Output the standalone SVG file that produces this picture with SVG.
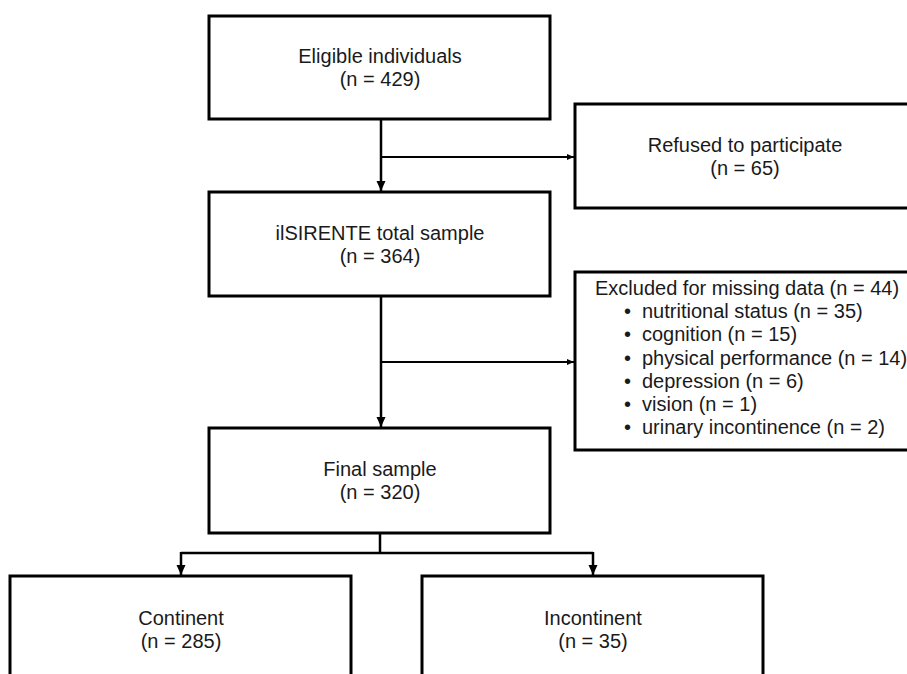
<svg xmlns="http://www.w3.org/2000/svg" width="907" height="674" viewBox="0 0 907 674">
<style>
.box{fill:#fff;stroke:#000;stroke-width:3}
.t{font-family:"Liberation Sans",Arial,sans-serif;font-size:20px;fill:#1a1a1a}
.c{text-anchor:middle}
.ln{fill:none;stroke:#000;stroke-width:2.5}
.lt{fill:none;stroke:#000;stroke-width:2}
</style>
<defs>
<marker id="ad" markerUnits="userSpaceOnUse" markerWidth="10" markerHeight="10" viewBox="0 0 10 10" refX="10" refY="5" orient="auto">
<path d="M0,0.5 L10,5 L0,9.5 Z" fill="#000"/>
</marker>
<marker id="ar" markerUnits="userSpaceOnUse" markerWidth="7" markerHeight="6" viewBox="0 0 7 6" refX="7" refY="3" orient="auto">
<path d="M0,0 L7,3 L0,6 Z" fill="#000"/>
</marker>
</defs>
<rect width="907" height="674" fill="#fff"/>
<g id="connectors">
<line class="ln" x1="381" y1="120" x2="381" y2="191" marker-end="url(#ad)"/>
<line class="lt" x1="381" y1="157" x2="574" y2="157" marker-end="url(#ar)"/>
<line class="ln" x1="381" y1="297" x2="381" y2="427" marker-end="url(#ad)"/>
<line class="lt" x1="381" y1="362" x2="574" y2="362" marker-end="url(#ar)"/>
<path class="ln" d="M380,534 V553 M181,553 H593"/>
<line class="ln" x1="181" y1="552" x2="181" y2="575" marker-end="url(#ad)"/>
<line class="ln" x1="593" y1="552" x2="593" y2="575" marker-end="url(#ad)"/>
</g>
<g id="eligible">
<rect class="box" x="209" y="16" width="341" height="103"/>
<text class="t c" x="380" y="63">Eligible individuals</text>
<text class="t c" x="380" y="86">(n = 429)</text>
</g>
<g id="refused">
<rect class="box" x="575" y="104" width="345" height="104"/>
<text class="t c" x="745" y="152">Refused to participate</text>
<text class="t c" x="745" y="175">(n = 65)</text>
</g>
<g id="total">
<rect class="box" x="209" y="192" width="341" height="104"/>
<text class="t c" x="380" y="240">ilSIRENTE total sample</text>
<text class="t c" x="380" y="263">(n = 364)</text>
</g>
<g id="excluded">
<rect class="box" x="575" y="272" width="345" height="178"/>
<text class="t" x="595" y="295">Excluded for missing data (n = 44)</text>
<g class="t">
<text x="624" y="318.2">•</text><text x="642" y="318.2">nutritional status (n = 35)</text>
<text x="624" y="341.4">•</text><text x="642" y="341.4">cognition (n = 15)</text>
<text x="624" y="364.6">•</text><text x="642" y="364.6">physical performance (n = 14)</text>
<text x="624" y="387.8">•</text><text x="642" y="387.8">depression (n = 6)</text>
<text x="624" y="411">•</text><text x="642" y="411">vision (n = 1)</text>
<text x="624" y="434.2">•</text><text x="642" y="434.2">urinary incontinence (n = 2)</text>
</g>
</g>
<g id="final">
<rect class="box" x="209" y="428" width="341" height="105"/>
<text class="t c" x="380" y="476">Final sample</text>
<text class="t c" x="380" y="499">(n = 320)</text>
</g>
<g id="continent">
<rect class="box" x="10" y="576" width="341" height="110"/>
<text class="t c" x="181" y="625">Continent</text>
<text class="t c" x="181" y="648">(n = 285)</text>
</g>
<g id="incontinent">
<rect class="box" x="422" y="576" width="341" height="110"/>
<text class="t c" x="593" y="625">Incontinent</text>
<text class="t c" x="593" y="648">(n = 35)</text>
</g>
</svg>
